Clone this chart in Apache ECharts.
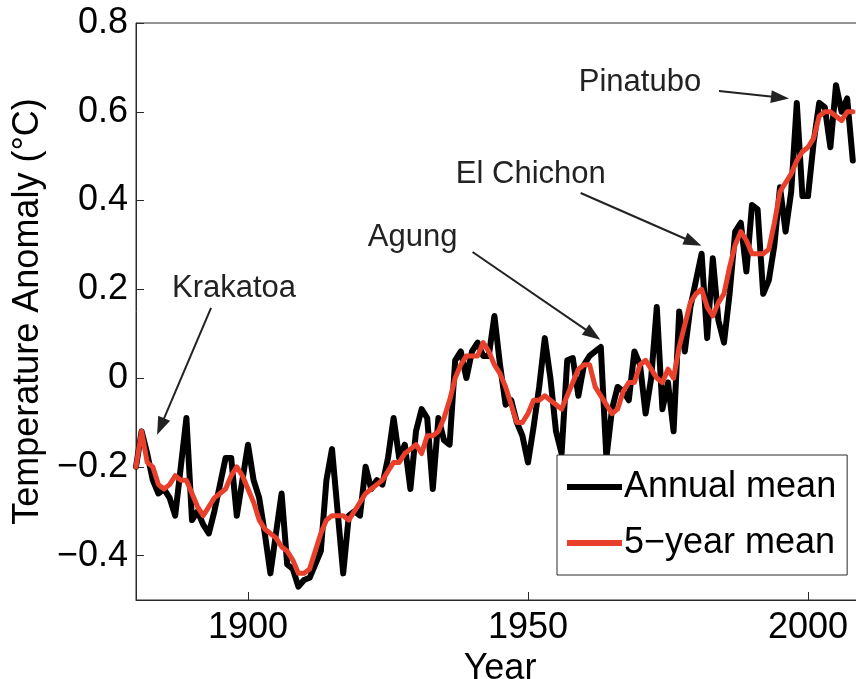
<!DOCTYPE html>
<html>
<head>
<meta charset="utf-8">
<script src="https://cdn.jsdelivr.net/npm/echarts@6/dist/echarts.min.js"></script>
<style>
  html, body { margin: 0; padding: 0; background: #fff; overflow: hidden; }
  #chart { width: 880px; height: 679px; }
</style>
</head>
<body>
<div id="chart"></div>
<script>
// Global temperature anomaly, annual values and 5-year running mean
const startYear = 1880;

const annualMean = [
  -0.20, -0.12, -0.17, -0.23, -0.26, -0.25, -0.27, -0.31, -0.20, -0.09,
  -0.32, -0.30, -0.33, -0.35, -0.30, -0.24, -0.18, -0.18, -0.31, -0.23,
  -0.15, -0.23, -0.27, -0.35, -0.44, -0.35, -0.26, -0.42, -0.43, -0.47,
  -0.455, -0.45, -0.42, -0.39, -0.23, -0.16, -0.30, -0.44, -0.31, -0.30,
  -0.31, -0.20, -0.25, -0.23, -0.24, -0.18, -0.09, -0.18, -0.15, -0.25,
  -0.12, -0.07, -0.09, -0.25, -0.09, -0.14, -0.15, 0.04, 0.06, 0.00,
  0.06, 0.08, 0.05, 0.05, 0.14, 0.03, -0.06, -0.05, -0.10, -0.13,
  -0.19, -0.11, -0.02, 0.09, 0.00, -0.12, -0.17, 0.04, 0.045, -0.04,
  0.03, 0.05, 0.06, 0.07, -0.18, -0.07, -0.02, -0.03, -0.05, 0.06,
  0.03, -0.08, 0.00, 0.16, -0.07, -0.01, -0.12, 0.15, 0.06, 0.16,
  0.22, 0.28, 0.09, 0.27, 0.13, 0.08, 0.19, 0.33, 0.35, 0.24,
  0.39, 0.38, 0.19, 0.22, 0.30, 0.43, 0.33, 0.42, 0.62, 0.41,
  0.41, 0.53, 0.62, 0.61, 0.52, 0.66, 0.60, 0.63, 0.49
];

const fiveYearMean = [
  -0.20, -0.12, -0.19, -0.20, -0.24, -0.25, -0.24, -0.22, -0.23, -0.23,
  -0.26, -0.29, -0.31, -0.29, -0.27, -0.26, -0.25, -0.22, -0.20, -0.22,
  -0.25, -0.28, -0.32, -0.34, -0.35, -0.36, -0.38, -0.39, -0.41, -0.44,
  -0.44, -0.43, -0.39, -0.35, -0.32, -0.31, -0.31, -0.31, -0.32, -0.30,
  -0.28, -0.26, -0.25, -0.24, -0.23, -0.21, -0.19, -0.19, -0.17, -0.16,
  -0.15, -0.17, -0.13, -0.13, -0.12, -0.09, -0.05, 0.00, 0.03, 0.05,
  0.05, 0.05, 0.08, 0.06, 0.03, 0.01, -0.02, -0.06, -0.10, -0.10,
  -0.08, -0.05, -0.05, -0.04, -0.05, -0.06, -0.07, -0.04, -0.01, 0.02,
  0.03, 0.03, -0.02, -0.04, -0.06, -0.08, -0.07, -0.03, -0.01, -0.01,
  0.03, 0.04, 0.02, 0.00, -0.01, 0.02, 0.00, 0.07, 0.12, 0.17,
  0.19, 0.20, 0.16, 0.14, 0.17, 0.19, 0.25, 0.30, 0.33, 0.31,
  0.28, 0.28, 0.28, 0.29, 0.35, 0.42, 0.44, 0.46, 0.49, 0.51,
  0.52, 0.54, 0.59, 0.60, 0.60, 0.59, 0.58, 0.60, 0.60
];

const yearTicks = [1900, 1950, 2000];
const anomalyTicks = [-0.4, -0.2, 0, 0.2, 0.4, 0.6, 0.8];

// Volcanic eruptions: label position and arrow (tail -> head) in data units
const eruptionNames = ['Krakatoa', 'Agung', 'El Chichon', 'Pinatubo'];
const eruptionLabelAt = [[1897.5, 0.203], [1929.4, 0.316], [1950.5, 0.458], [1970.0, 0.665]];
const eruptionArrowFrom = [[1893.4, 0.158], [1940.1, 0.284], [1959.4, 0.417], [1984.1, 0.647]];
const eruptionArrowTo = [[1884.4, -0.109], [1961.6, 0.098], [1979.5, 0.306], [1995.0, 0.632]];

const toPairs = vals => vals.map((v, i) => [startYear + i, v]);

const fontFamily = '"Liberation Sans", Arial, Helvetica, sans-serif';
const chart = echarts.init(document.getElementById('chart'), null, { renderer: 'canvas' });

chart.setOption({
  animation: false,
  backgroundColor: '#ffffff',
  textStyle: { fontFamily: fontFamily },
  grid: {
    left: 136, right: 16, top: 23, bottom: 79,
    outerBoundsMode: 'none', containLabel: false,
    show: true, borderColor: '#2a2a2a', borderWidth: 1, backgroundColor: 'transparent'
  },
  xAxis: {
    type: 'value', min: 1880, max: 2010, interval: 10,
    name: 'Year', nameLocation: 'middle', nameGap: 44,
    nameTextStyle: { fontSize: 36, color: '#000', fontFamily: fontFamily },
    axisLine: { show: true, onZero: false, lineStyle: { color: '#2a2a2a', width: 1 } },
    axisTick: { show: true, inside: true, length: 8, customValues: yearTicks, lineStyle: { color: '#2a2a2a' } },
    axisLabel: { customValues: yearTicks, fontSize: 36, color: '#000', margin: 10, fontFamily: fontFamily,
                 formatter: v => String(v) },
    splitLine: { show: false }
  },
  yAxis: {
    type: 'value', min: -0.5, max: 0.8, interval: 0.1,
    name: 'Temperature Anomaly (\u00B0C)', nameLocation: 'middle', nameGap: 90,
    nameTextStyle: { fontSize: 36, color: '#000', fontFamily: fontFamily },
    axisLine: { show: true, onZero: false, lineStyle: { color: '#2a2a2a', width: 1 } },
    axisTick: { show: true, inside: true, length: 8, customValues: anomalyTicks, lineStyle: { color: '#2a2a2a' } },
    axisLabel: { customValues: anomalyTicks, fontSize: 36, color: '#000', margin: 8, fontFamily: fontFamily,
                 formatter: v => Math.abs(v) < 1e-9 ? '0' : (v < 0 ? '\u2212' : '') + Math.abs(v).toFixed(1) },
    splitLine: { show: false }
  },
  legend: {
    data: ['Annual mean', '5\u2212year mean'],
    orient: 'vertical', left: 557, top: 455,
    icon: 'rect', itemWidth: 55, itemHeight: 6, itemGap: 16,
    padding: [12, 11, 12, 10],
    backgroundColor: '#ffffff', borderColor: '#2a2a2a', borderWidth: 1,
    textStyle: { fontSize: 36, color: '#000', lineHeight: 40, fontFamily: fontFamily, padding: [0, 0, 0, -3] }
  },
  series: [
    {
      name: 'Annual mean', type: 'line', data: toPairs(annualMean),
      showSymbol: false, color: '#000000',
      lineStyle: { color: '#000000', width: 6, join: 'round', cap: 'round' },
      z: 2
    },
    {
      name: '5\u2212year mean', type: 'line', data: toPairs(fiveYearMean),
      showSymbol: false, color: '#e8402b',
      lineStyle: { color: '#e8402b', width: 5, join: 'round', cap: 'round' },
      z: 3
    },
    {
      name: 'eruptions', type: 'line', data: [], silent: true, z: 4,
      markLine: {
        silent: true, animation: false,
        symbol: ['none', 'triangle'], symbolSize: [13, 18],
        lineStyle: { color: '#222', width: 2, type: 'solid' },
        label: { show: false },
        emphasis: { disabled: true },
        data: eruptionArrowFrom.map((p, i) => [{ coord: p }, { coord: eruptionArrowTo[i] }])
      },
      markPoint: {
        silent: true, animation: false,
        symbol: 'circle', symbolSize: 0,
        itemStyle: { color: 'transparent' },
        label: { show: true, position: 'inside', fontSize: 31, color: '#222', fontFamily: fontFamily,
                 formatter: p => p.name },
        data: eruptionLabelAt.map((p, i) => ({ name: eruptionNames[i], coord: p }))
      }
    }
  ]
});
</script>
</body>
</html>
